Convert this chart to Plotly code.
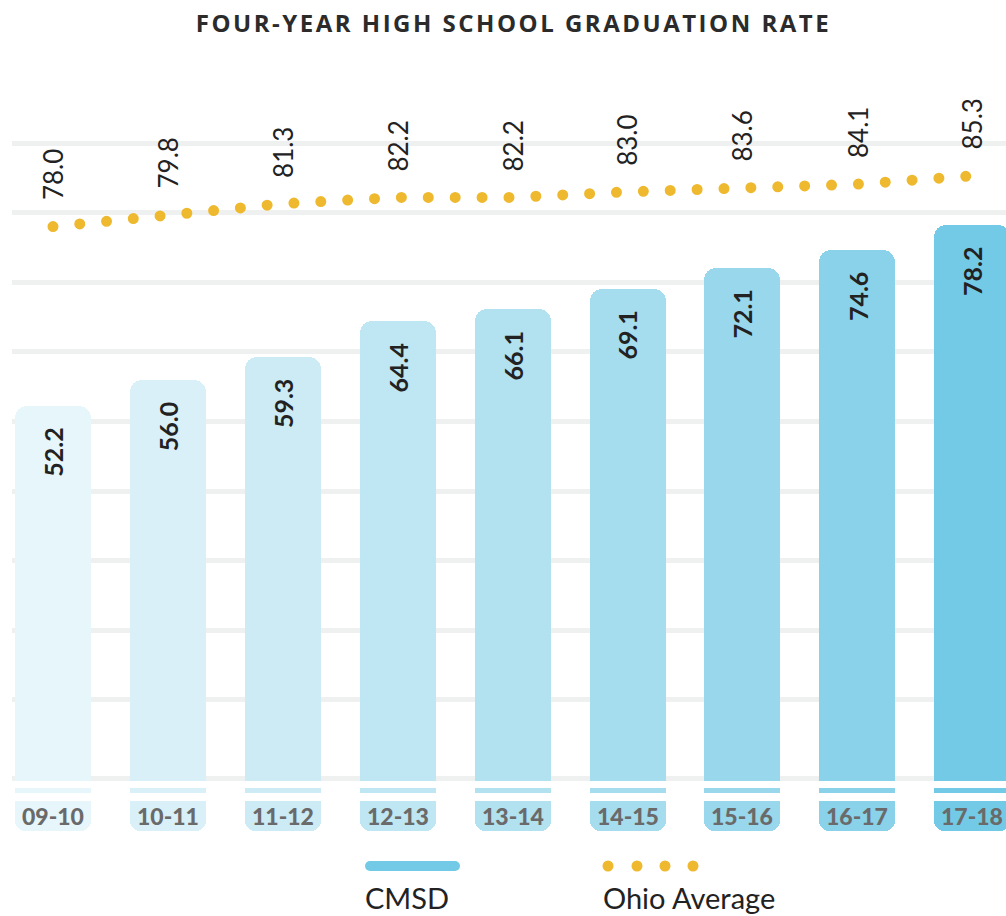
import plotly.graph_objects as go

# ---------------- data ----------------
categories = ["09-10", "10-11", "11-12", "12-13", "13-14", "14-15", "15-16", "16-17", "17-18"]
cmsd = [52.2, 56.0, 59.3, 64.4, 66.1, 69.1, 72.1, 74.6, 78.2]
ohio = [78.0, 79.8, 81.3, 82.2, 82.2, 83.0, 83.6, 84.1, 85.3]
grid_values = [10, 20, 30, 40, 50, 60, 70, 80, 90]
title_text = "FOUR-YEAR HIGH SCHOOL GRADUATION RATE"
legend_labels = ["CMSD", "Ohio Average"]

# ---------------- styles ----------------
bar_colors = ["#E7F6FB", "#D9F0F8", "#CCEBF5", "#BFE6F3", "#B2E1F0",
              "#A5DCEE", "#98D7EC", "#89D2EA", "#72CAE6"]
ohio_color = "#EEB92E"
grid_color = "#EFF1F1"
text_dark = "#222222"

W, H = 1006, 916
PL, PR, PT, PB = 12, 1006, 100, 831          # plot area pixel box
STEP = 114.9                                   # px per category
FIRST = 53                                     # px center of first category
PXU = 6.96                                     # px per percentage point
ZERO = 769.5                                   # px of value 0
BASE = -1.65                                   # bars extend slightly below zero
BAR_W = 76 / STEP
N = len(categories)


def px_x(px):
    return (px - PL) / (PR - PL)


def px_y(py):
    return (PB - py) / (PB - PT)


fig = go.Figure()

# main bars (rounded top)
fig.add_trace(go.Bar(
    x=categories, y=cmsd, width=BAR_W,
    marker=dict(color=bar_colors, cornerradius=12, line=dict(width=0)),
    yaxis="y", showlegend=False, hoverinfo="skip"))
# square foot of the bars (extends slightly below zero)
fig.add_trace(go.Bar(
    x=categories, y=[8] * N, base=BASE, width=BAR_W,
    marker=dict(color=bar_colors, line=dict(width=0)),
    yaxis="y", showlegend=False, hoverinfo="skip"))

# ohio dotted line
fig.add_trace(go.Scatter(
    x=categories, y=ohio, mode="lines",
    line=dict(color=ohio_color, width=11, dash="dot"),
    yaxis="y", showlegend=False, hoverinfo="skip"))

# thin strip under bars
fig.add_trace(go.Bar(
    x=categories, y=[-5] * N, base=0, width=BAR_W,
    marker=dict(color=bar_colors, line=dict(width=0)),
    yaxis="y2", showlegend=False, hoverinfo="skip"))

# label boxes: rounded bottom + square top part
fig.add_trace(go.Bar(
    x=categories, y=[-30] * N, base=-13, width=BAR_W,
    marker=dict(color=bar_colors, cornerradius=10, line=dict(width=0)),
    yaxis="y2", showlegend=False, hoverinfo="skip"))
fig.add_trace(go.Bar(
    x=categories, y=[-14] * N, base=-13, width=BAR_W,
    marker=dict(color=bar_colors, line=dict(width=0)),
    yaxis="y2", showlegend=False, hoverinfo="skip"))

annotations = []
# title (index 0)
annotations.append(dict(
    text=title_text, x=px_x(513.5), y=px_y(22.5), xref="paper", yref="paper",
    xanchor="center", yanchor="middle", showarrow=False,
    font=dict(family="Open Sans", size=24, color="#2b2b2b", weight=700)))

for c, v in zip(categories, cmsd):
    annotations.append(dict(
        text=f"{v:.1f}", x=c, y=v, xref="x", yref="y", textangle=-90,
        xanchor="center", yanchor="top", yshift=-20, showarrow=False,
        font=dict(family="Lato", size=25, color=text_dark, weight=700)))

for c, v in zip(categories, ohio):
    annotations.append(dict(
        text=f"{v:.1f}", x=c, y=v, xref="x", yref="y", textangle=-90,
        xanchor="center", yanchor="bottom", yshift=24, showarrow=False,
        font=dict(family="Lato", size=26, color=text_dark)))

for c in categories:
    annotations.append(dict(
        text=c, x=c, y=-27.5, xref="x", yref="y2",
        xanchor="center", yanchor="middle", showarrow=False,
        font=dict(family="Lato", size=23, color="#6a6a6a", weight=900)))

# legend texts
annotations.append(dict(
    text=legend_labels[0], x=px_x(363), y=px_y(898), xref="paper", yref="paper",
    xanchor="left", yanchor="middle", showarrow=False,
    font=dict(family="Lato", size=29, color=text_dark)))
annotations.append(dict(
    text=legend_labels[1], x=px_x(601), y=px_y(898), xref="paper", yref="paper",
    xanchor="left", yanchor="middle", showarrow=False,
    font=dict(family="Lato", size=29, color=text_dark)))

shapes = []
# legend CMSD swatch (rounded line)
ly = 866
shapes.append(dict(type="line", xref="paper", yref="paper",
                   x0=px_x(370), x1=px_x(455), y0=px_y(ly), y1=px_y(ly),
                   line=dict(color=bar_colors[-1], width=10)))
for cx in (370, 455):
    shapes.append(dict(type="circle", xref="paper", yref="paper",
                       x0=px_x(cx - 5), x1=px_x(cx + 5), y0=px_y(ly + 5), y1=px_y(ly - 5),
                       fillcolor=bar_colors[-1], line=dict(width=0)))
# legend Ohio dots
for cx in (608, 637, 665, 693):
    shapes.append(dict(type="circle", xref="paper", yref="paper",
                       x0=px_x(cx - 5.5), x1=px_x(cx + 5.5), y0=px_y(ly + 5.5), y1=px_y(ly - 5.5),
                       fillcolor=ohio_color, line=dict(width=0)))

top_val = (ZERO - PT) / PXU

fig.update_layout(
    width=W, height=H,
    margin=dict(l=PL, r=W - PR, t=PT, b=H - PB, pad=0),
    paper_bgcolor="white", plot_bgcolor="white",
    barmode="overlay", bargap=0,
    showlegend=False,
    xaxis=dict(type="category", categoryorder="array", categoryarray=categories,
               range=[(PL - FIRST) / STEP, (PR - FIRST) / STEP],
               showgrid=False, showticklabels=False, zeroline=False,
               showline=False, ticks="", fixedrange=True),
    yaxis=dict(domain=[px_y(781), 1], range=[BASE, top_val],
               tickvals=[-1.3] + grid_values, showgrid=True,
               gridcolor=grid_color, gridwidth=5, showticklabels=False,
               zeroline=False, showline=False, ticks=""),
    yaxis2=dict(domain=[0, px_y(788)], range=[-43, 0], anchor="x",
                showgrid=False, showticklabels=False, zeroline=False,
                showline=False, ticks=""),
    annotations=annotations,
    shapes=shapes,
)

post = """
var gd = document.getElementById('{plot_id}');
document.body.style.margin = '0';
function fx() {
  gd.querySelectorAll('.scatterlayer .js-line').forEach(function (p) {
    p.style.strokeLinecap = 'round';
    p.style.strokeDasharray = '0px 26.9px';
  });
  var t = gd.querySelector('.annotation[data-index="0"] text');
  if (t) { t.style.letterSpacing = '2.5px'; }
}
fx();
gd.on('plotly_afterplot', fx);
"""

fig.write_html("out.html", post_script=post, config={"displayModeBar": False})
